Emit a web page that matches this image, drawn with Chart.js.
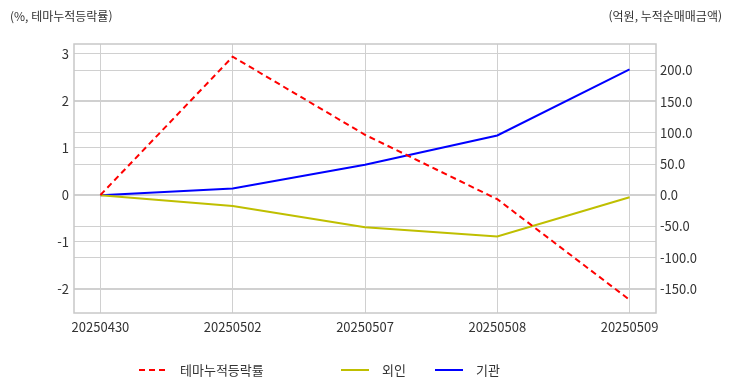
<!DOCTYPE html>
<html lang="ko">
<head>
  <meta charset="UTF-8">
  <title>테마누적등락률 / 누적순매매금액</title>
  <script src="https://cdn.jsdelivr.net/npm/chart.js"></script>
  <style>
    body { margin: 0; background: #fff; }
  </style>
</head>
<body>
  <canvas id="chart" width="732" height="392"></canvas>

  <script>
    // data
    const dates = ["20250430", "20250502", "20250507", "20250508", "20250509"];
    const themeRate = [0, 2.94, 1.28, -0.09, -2.23];   // %, left axis
    const foreign = [0, -17, -51, -66, -3];            // 억원, right axis
    const institution = [0, 11, 49, 96, 202];          // 억원, right axis

    const FONT = '"Noto Sans CJK KR", "Noto Sans", sans-serif';
    const TEXT = '#333';
    const GRID = '#d0d0d0';

    const pts = arr => arr.map((v, i) => ({ x: i, y: v }));

    // titles above both y axes + frame + custom legend
    const extras = {
      id: 'extras',
      beforeDatasetsDraw(chart) {
        const { ctx, chartArea: a } = chart;
        ctx.save();
        ctx.strokeStyle = '#c8c8c8';
        ctx.lineWidth = 1.5;
        ctx.strokeRect(a.left, a.top, a.right - a.left, a.bottom - a.top);
        ctx.restore();
      },
      afterDraw(chart) {
        const ctx = chart.ctx;
        ctx.save();
        ctx.fillStyle = TEXT;
        ctx.font = '12px ' + FONT;
        ctx.textBaseline = 'middle';
        ctx.textAlign = 'left';
        ctx.fillText('(%, 테마누적등락률)', 10, 16);
        ctx.textAlign = 'right';
        ctx.fillText('(억원, 누적순매매금액)', 722, 16);

        // legend
        const legendX = [139, 341, 435];
        const ly = 370;
        ctx.font = '13px ' + FONT;
        ctx.textAlign = 'left';
        chart.data.datasets.forEach((ds, i) => {
          const x0 = legendX[i];
          ctx.beginPath();
          ctx.strokeStyle = ds.borderColor;
          ctx.lineWidth = ds.borderWidth;
          ctx.setLineDash(ds.borderDash || []);
          ctx.moveTo(x0, ly);
          ctx.lineTo(x0 + 28, ly);
          ctx.stroke();
          ctx.setLineDash([]);
          ctx.fillStyle = TEXT;
          ctx.fillText(ds.label, x0 + 41, ly);
        });
        ctx.restore();
      }
    };

    new Chart(document.getElementById('chart'), {
      type: 'line',
      data: {
        datasets: [
          {
            label: '테마누적등락률',
            data: pts(themeRate),
            yAxisID: 'y',
            borderColor: '#ff0000',
            borderWidth: 2,
            borderDash: [6, 4],
            pointRadius: 0,
            tension: 0
          },
          {
            label: '외인',
            data: pts(foreign),
            yAxisID: 'y1',
            borderColor: '#bfbf00',
            borderWidth: 2,
            pointRadius: 0,
            tension: 0
          },
          {
            label: '기관',
            data: pts(institution),
            yAxisID: 'y1',
            borderColor: '#0000ff',
            borderWidth: 2,
            pointRadius: 0,
            tension: 0
          }
        ]
      },
      options: {
        responsive: false,
        animation: false,
        layout: { padding: { top: 44, left: 0, right: 0, bottom: 0 } },
        plugins: {
          legend: { display: false },
          tooltip: { enabled: false }
        },
        scales: {
          x: {
            type: 'linear',
            min: -0.2,
            max: 4.2,
            afterFit(s) { s.height = 79; },
            grid: { color: GRID, drawTicks: false },
            border: { display: false },
            ticks: {
              stepSize: 1,
              includeBounds: false,
              autoSkip: false,
              maxRotation: 0,
              padding: 6,
              color: TEXT,
              font: { family: FONT, size: 13 },
              callback: v => dates[v] ?? ''
            }
          },
          y: {
            position: 'left',
            min: -2.51,
            max: 3.21,
            afterFit(s) { s.width = 74; },
            grid: { color: GRID, drawTicks: false },
            border: { display: false },
            ticks: {
              stepSize: 1,
              includeBounds: false,
              padding: 5,
              color: TEXT,
              font: { family: FONT, size: 13 },
              callback: v => String(v)
            }
          },
          y1: {
            position: 'right',
            min: -188.5,
            max: 242.5,
            afterFit(s) { s.width = 76; },
            grid: { color: GRID, drawTicks: false },
            border: { display: false },
            ticks: {
              stepSize: 50,
              includeBounds: false,
              padding: 4,
              color: TEXT,
              font: { family: FONT, size: 13 },
              callback: v => v.toFixed(1)
            }
          }
        }
      },
      plugins: [extras]
    });
  </script>
</body>
</html>
